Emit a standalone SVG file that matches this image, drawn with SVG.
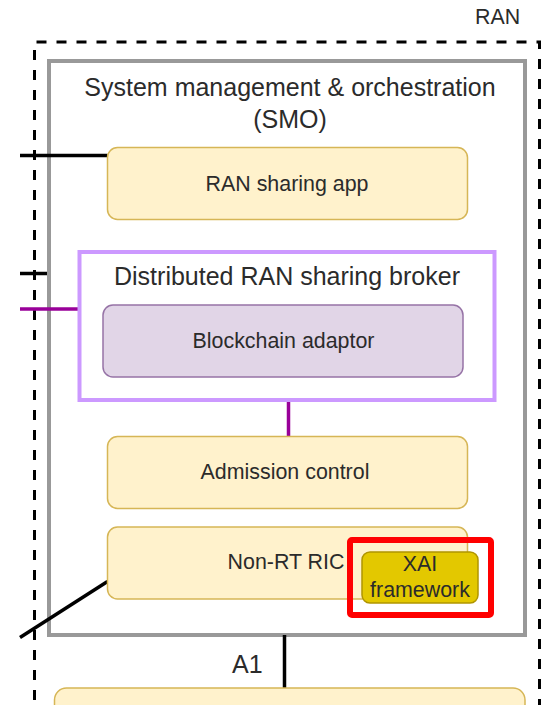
<svg xmlns="http://www.w3.org/2000/svg" width="548" height="705" viewBox="0 0 548 705">
  <style>
    text { font-family: "Liberation Sans", Arial, Helvetica, sans-serif; fill: #2b2b2b; }
    .title { font-size: 25px; text-anchor: middle; }
    .label { font-size: 21.4px; text-anchor: middle; }
    .small { font-size: 21.4px; }
    .yellow { fill: #fff2cc; stroke: #d6b656; stroke-width: 1.5; }
    .purple { fill: #e1d5e7; stroke: #9673a6; stroke-width: 1.5; }
    .xai { fill: #e3c800; stroke: #b09500; stroke-width: 1.5; }
    .wire { stroke: #000; stroke-width: 3.5; fill: none; }
    .wire-p { stroke: #990099; stroke-width: 3.5; fill: none; }
  </style>

  <rect width="548" height="705" fill="#ffffff"/>

  <!-- RAN domain (dashed boundary) -->
  <g id="ran">
    <path d="M34.5 720 V42 H539.5 V720" fill="none" stroke="#000" stroke-width="3" stroke-dasharray="10 10"/>
    <text class="small" x="475" y="23.5">RAN</text>
  </g>

  <!-- SMO container -->
  <g id="smo">
    <rect x="49" y="61" width="476" height="574" fill="#ffffff" stroke="#999999" stroke-width="4"/>
    <text class="title" x="290" y="96">System management &amp; orchestration</text>
    <text class="title" x="290" y="127.5">(SMO)</text>
  </g>

  <!-- Connectors -->
  <g id="connectors">
    <line class="wire" x1="20" y1="155.5" x2="107.5" y2="155.5"/>
    <line class="wire" x1="20" y1="273.5" x2="47" y2="273.5"/>
    <line class="wire-p" x1="20" y1="309" x2="79.5" y2="309"/>
    <line class="wire-p" x1="288.5" y1="400" x2="288.5" y2="436.5"/>
    <line class="wire" x1="107.5" y1="581.5" x2="20" y2="637.5"/>
    <line class="wire" x1="284.5" y1="635" x2="284.5" y2="688"/>
    <text x="232" y="672.5" style="font-size:25px">A1</text>
  </g>

  <g id="ran-sharing-app">
    <rect class="yellow" x="107.5" y="147.5" width="360" height="72" rx="10"/>
    <text class="label" x="287" y="190.5">RAN sharing app</text>
  </g>

  <g id="sharing-broker">
    <rect x="79.5" y="252" width="415" height="148" fill="#ffffff" stroke="#cc99ff" stroke-width="4"/>
    <text class="title" x="287" y="285">Distributed RAN sharing broker</text>
  </g>

  <g id="blockchain-adaptor">
    <rect class="purple" x="103" y="305" width="360" height="72" rx="10"/>
    <text class="label" x="283.5" y="348">Blockchain adaptor</text>
  </g>

  <g id="admission-control">
    <rect class="yellow" x="107.5" y="436.5" width="360" height="72" rx="10"/>
    <text class="label" x="285" y="479">Admission control</text>
  </g>

  <g id="non-rt-ric">
    <rect class="yellow" x="107.5" y="527" width="360" height="72" rx="10"/>
    <text class="label" x="286" y="569">Non-RT RIC</text>
  </g>

  <g id="xai-framework">
    <rect class="xai" x="362" y="552" width="116" height="51" rx="8"/>
    <text class="label" x="420" y="571">XAI</text>
    <text class="label" x="420" y="597">framework</text>
  </g>

  <!-- highlight frame -->
  <g id="xai-highlight">
    <rect x="350" y="540" width="141" height="75" rx="2" fill="none" stroke="#ff0000" stroke-width="6"/>
  </g>

  <g id="near-rt-ric">
    <rect class="yellow" x="54.5" y="688" width="470.5" height="40" rx="12"/>
  </g>
</svg>
